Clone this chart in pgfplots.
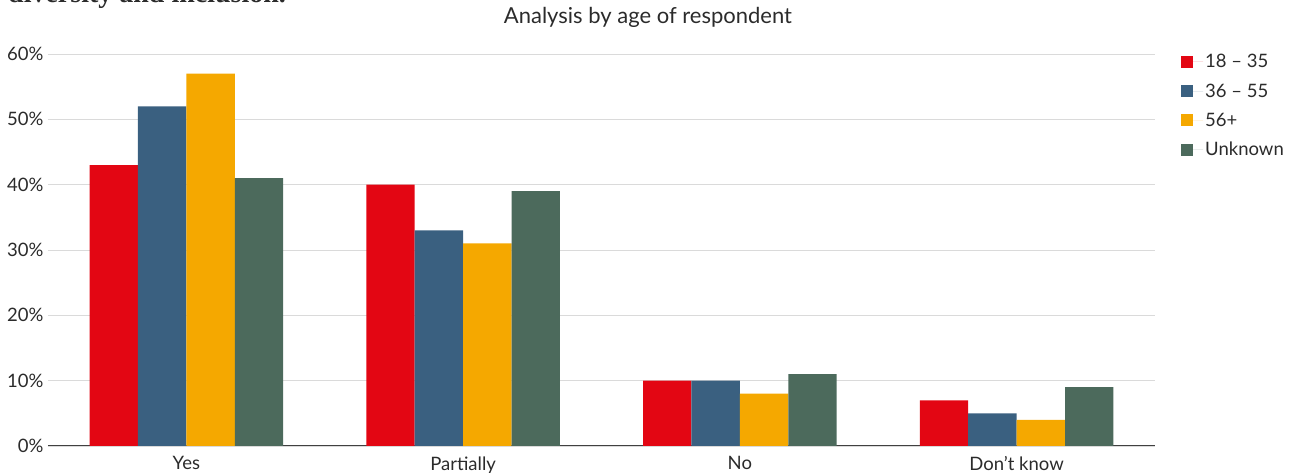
\documentclass[border=0pt]{standalone}
\usepackage{pgfplots}
\pgfplotsset{compat=1.18}
\usepackage{fontspec}
\setmainfont{Lato}
\newfontfamily\serifbold{Liberation Serif}
\definecolor{cRed}{HTML}{E30613}
\definecolor{cBlue}{HTML}{3A6080}
\definecolor{cOrange}{HTML}{F5A800}
\definecolor{cGreen}{HTML}{4C6A5C}
\definecolor{gridgray}{HTML}{DADADA}
\definecolor{txt}{HTML}{2B2B2B}
\begin{document}
\begin{tikzpicture}
\begin{axis}[
  name=ax,
  scale only axis, width=1107pt, height=392pt,
  xmin=-0.5, xmax=3.5, ymin=0, ymax=60,
  ybar=0pt, bar width=0.175,
  xtick=data, xticklabels={Yes,Partially,No,Don’t know},
  ytick={0,10,20,30,40,50,60},
  yticklabels={0\%,10\%,20\%,30\%,40\%,50\%,60\%},
  major tick length=0pt,
  axis x line*=bottom, axis y line*=left,
  x axis line style={draw=black!75, line width=1pt, -},
  y axis line style={draw=none},
  ymajorgrids, grid style={gridgray, line width=0.8pt},
  tick label style={font=\fontsize{18.5}{21}\selectfont, text=txt},
  xticklabel style={yshift=-7pt},
  yticklabel style={xshift=-1pt},
  legend style={draw=none, fill=none, at={(1.0208,1.01)}, anchor=north west,
    font=\fontsize{18.5}{21}\selectfont, text=txt, row sep=10.5pt},
  legend cell align=left,
  legend image code/.code={\path (0pt,0pt) -- (22pt,0pt);\fill[#1] (0pt,-6pt) rectangle (12pt,6pt);},
]
\addplot[fill=cRed, draw=none] coordinates {(0,43) (1,40) (2,10) (3,7)};
\addplot[fill=cBlue, draw=none] coordinates {(0,52) (1,33) (2,10) (3,5)};
\addplot[fill=cOrange, draw=none] coordinates {(0,57) (1,31) (2,8) (3,4)};
\addplot[fill=cGreen, draw=none] coordinates {(0,41) (1,39) (2,11) (3,9)};
\legend{18 – 35, 36 – 55, 56+, Unknown}
\end{axis}
\node[anchor=base west, font=\serifbold\bfseries\fontsize{28}{32}\selectfont, text=txt, inner sep=0pt] at ([shift={(-40pt,443pt)}]ax.south west) {diversity and inclusion.};
\node[anchor=base, font=\fontsize{22}{26}\selectfont, text=txt] at ([shift={(600pt,422pt)}]ax.south west) {Analysis by age of respondent};
\pgfresetboundingbox
\useasboundingbox ([shift={(-48pt,-27pt)}]ax.south west) rectangle ++(1295pt,473pt);
\end{tikzpicture}
\end{document}
